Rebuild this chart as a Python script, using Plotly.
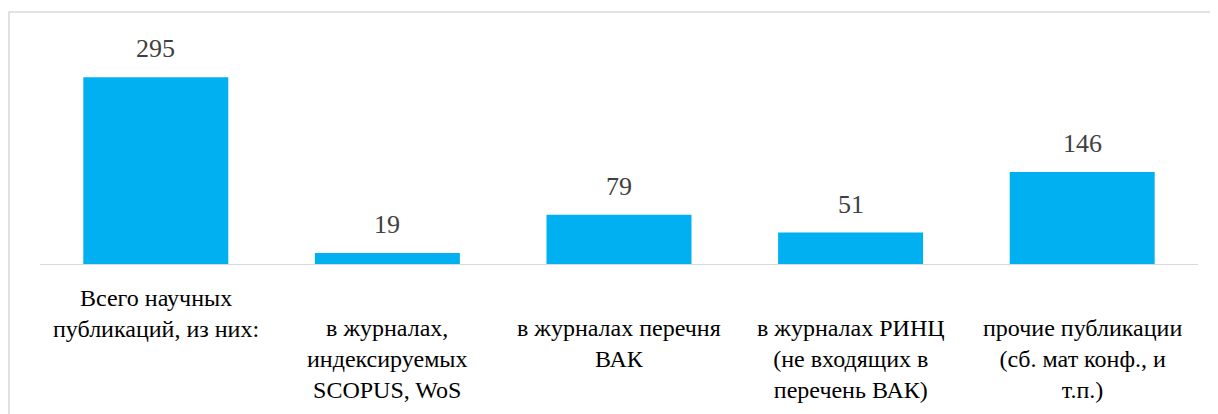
import plotly.graph_objects as go

categories = [
    "Всего научных<br>публикаций, из них:",
    "в журналах,<br>индексируемых<br>SCOPUS, WoS",
    "в журналах перечня<br>ВАК",
    "в журналах РИНЦ<br>(не входящих в<br>перечень ВАК)",
    "прочие публикации<br>(сб. мат конф., и<br>т.п.)",
]
values = [295, 19, 79, 51, 146]
# vertical offset of each category label (px below the axis line)
label_shift = [-18, -48, -48, -48, -48]

bar_color = "#00B0F0"
serif = "Liberation Serif"

fig = go.Figure()
fig.add_trace(
    go.Bar(
        x=list(range(len(values))),
        y=values,
        marker_color=bar_color,
        marker_line_width=0,
        width=0.626,
        hoverinfo="skip",
    )
)

for i, v in enumerate(values):
    fig.add_annotation(
        x=i, y=v, xref="x", yref="y", text=str(v), showarrow=False,
        yanchor="bottom", yshift=12,
        font=dict(family=serif, size=26, color="#404040"),
    )

for i, lab in enumerate(categories):
    fig.add_annotation(
        x=i, y=0, xref="x", yref="y", text=lab, showarrow=False,
        yanchor="top", yshift=label_shift[i],
        font=dict(family=serif, size=24, color="#000000"),
    )

# chart border (extends past the right and bottom edge of the image)
fig.add_shape(
    type="rect", xref="paper", yref="paper",
    x0=-0.0268, x1=1.04, y0=-0.8, y1=1.0766,
    line=dict(color="#D9D9D9", width=1.5), fillcolor="rgba(0,0,0,0)",
)

fig.update_layout(
    width=1218,
    height=414,
    margin=dict(l=32, r=28, t=22, b=157),
    plot_bgcolor="white",
    paper_bgcolor="white",
    showlegend=False,
    xaxis=dict(
        range=[-0.5, 4.5],
        showticklabels=False,
        showgrid=False,
        zeroline=False,
        showline=False,
        ticks="",
    ),
    yaxis=dict(
        range=[0, 369],
        visible=False,
        showgrid=False,
        zeroline=False,
    ),
)
fig.add_hline(y=0, line=dict(color="#D9D9D9", width=2))

fig.write_html("out.html")
